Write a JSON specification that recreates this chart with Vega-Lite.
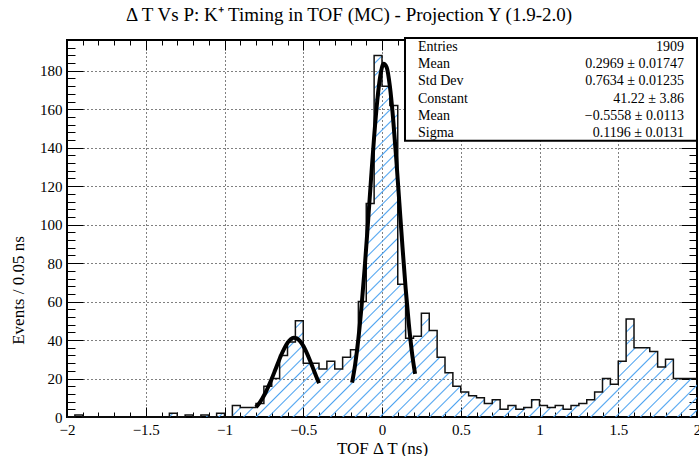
{
"$schema":"https://vega.github.io/schema/vega-lite/v6.json",
"width":630,"height":377,
"autosize":{"type":"none"},
"padding":{"left":67,"top":40,"right":2,"bottom":39},
"background":"white",
"config":{"font":"Liberation Serif","view":{"stroke":"black","strokeWidth":2},
 "axis":{"domain":false,"labelFont":"Liberation Serif","titleFont":"Liberation Serif","labelColor":"black","titleColor":"black","tickColor":"black","tickWidth":1,"titleFontWeight":"normal","labelFontSize":15,"titleFontSize":17,"gridColor":"black","gridDash":[1,3],"gridOpacity":1,"gridWidth":1}},
"title":{"text":"Δ T Vs P: K⁺ Timing in TOF (MC) - Projection Y (1.9-2.0)","font":"Liberation Serif","fontSize":19,"fontWeight":"normal","color":"black","anchor":"middle","dx":-33,"offset":12},
"datasets":{
"hist":[{"x":-2.0,"n":0},{"x":-1.95,"n":1},{"x":-1.9,"n":0},{"x":-1.85,"n":0},{"x":-1.8,"n":0},{"x":-1.75,"n":0},{"x":-1.7,"n":0},{"x":-1.65,"n":0},{"x":-1.6,"n":0},{"x":-1.55,"n":0},{"x":-1.5,"n":0},{"x":-1.45,"n":0},{"x":-1.4,"n":0},{"x":-1.35,"n":2},{"x":-1.3,"n":0},{"x":-1.25,"n":1},{"x":-1.2,"n":0},{"x":-1.15,"n":1},{"x":-1.1,"n":0},{"x":-1.05,"n":2},{"x":-1.0,"n":0},{"x":-0.95,"n":6},{"x":-0.9,"n":5},{"x":-0.85,"n":5},{"x":-0.8,"n":7},{"x":-0.75,"n":16},{"x":-0.7,"n":20},{"x":-0.65,"n":32},{"x":-0.6,"n":39},{"x":-0.55,"n":50},{"x":-0.5,"n":28},{"x":-0.45,"n":28},{"x":-0.4,"n":25},{"x":-0.35,"n":29},{"x":-0.3,"n":25},{"x":-0.25,"n":31},{"x":-0.2,"n":35},{"x":-0.15,"n":60},{"x":-0.1,"n":111},{"x":-0.05,"n":188},{"x":0.0,"n":172},{"x":0.05,"n":162},{"x":0.1,"n":69},{"x":0.15,"n":41},{"x":0.2,"n":42},{"x":0.25,"n":54},{"x":0.3,"n":45},{"x":0.35,"n":31},{"x":0.4,"n":23},{"x":0.45,"n":16},{"x":0.5,"n":13},{"x":0.55,"n":11},{"x":0.6,"n":10},{"x":0.65,"n":7},{"x":0.7,"n":9},{"x":0.75,"n":4},{"x":0.8,"n":6},{"x":0.85,"n":4},{"x":0.9,"n":5},{"x":0.95,"n":9},{"x":1.0,"n":6},{"x":1.05,"n":5},{"x":1.1,"n":6},{"x":1.15,"n":4},{"x":1.2,"n":6},{"x":1.25,"n":7},{"x":1.3,"n":9},{"x":1.35,"n":13},{"x":1.4,"n":20},{"x":1.45,"n":17},{"x":1.5,"n":29},{"x":1.55,"n":51},{"x":1.6,"n":36},{"x":1.65,"n":36},{"x":1.7,"n":34},{"x":1.75,"n":26},{"x":1.8,"n":30},{"x":1.85,"n":20},{"x":1.9,"n":20},{"x":1.95,"n":20},{"x":2.0,"n":20}],
"fit":[{"g":"g1","x":-0.8,"y":5.1},{"g":"g1","x":-0.78,"y":7.1},{"g":"g1","x":-0.76,"y":9.6},{"g":"g1","x":-0.74,"y":12.6},{"g":"g1","x":-0.72,"y":16.1},{"g":"g1","x":-0.7,"y":19.9},{"g":"g1","x":-0.68,"y":24.0},{"g":"g1","x":-0.66,"y":28.2},{"g":"g1","x":-0.64,"y":32.2},{"g":"g1","x":-0.62,"y":35.7},{"g":"g1","x":-0.6,"y":38.5},{"g":"g1","x":-0.58,"y":40.4},{"g":"g1","x":-0.56,"y":41.2},{"g":"g1","x":-0.54,"y":40.9},{"g":"g1","x":-0.52,"y":39.4},{"g":"g1","x":-0.5,"y":37.0},{"g":"g1","x":-0.48,"y":33.7},{"g":"g1","x":-0.46,"y":29.9},{"g":"g1","x":-0.44,"y":25.8},{"g":"g1","x":-0.42,"y":21.6},{"g":"g1","x":-0.4,"y":17.6},
{"g":"g2","x":-0.19,"y":17.9},{"g":"g2","x":-0.17,"y":27.6},{"g":"g2","x":-0.15,"y":40.7},{"g":"g2","x":-0.13,"y":57.4},{"g":"g2","x":-0.11,"y":77.4},{"g":"g2","x":-0.09,"y":99.9},{"g":"g2","x":-0.07,"y":123.3},{"g":"g2","x":-0.05,"y":145.6},{"g":"g2","x":-0.03,"y":164.5},{"g":"g2","x":-0.01,"y":177.7},{"g":"g2","x":0.01,"y":183.7},{"g":"g2","x":0.03,"y":181.7},{"g":"g2","x":0.05,"y":171.9},{"g":"g2","x":0.07,"y":155.6},{"g":"g2","x":0.09,"y":134.7},{"g":"g2","x":0.11,"y":111.6},{"g":"g2","x":0.13,"y":88.4},{"g":"g2","x":0.15,"y":67.0},{"g":"g2","x":0.17,"y":48.6},{"g":"g2","x":0.19,"y":33.7},{"g":"g2","x":0.21,"y":22.4}],
"stats":[{"i":1,"name":"Entries","val":"1909"},{"i":2,"name":"Mean","val":"0.2969 ± 0.01747"},{"i":3,"name":"Std Dev","val":"0.7634 ± 0.01235"},{"i":4,"name":"Constant","val":"41.22 ± 3.86"},{"i":5,"name":"Mean","val":"−0.5558 ± 0.0113"},{"i":6,"name":"Sigma","val":"0.1196 ± 0.0131"}]
},
"layer":[
{"data":{"name":"hist"},
 "mark":{"type":"area","interpolate":"step-after","fill":{"gradient":"linear","x1":0,"y1":0,"x2":1.1837,"y2":0.6803,"stops":[
{"offset":0.004,"color":"rgba(77,163,240,0)"},{"offset":0.0055,"color":"#4da3f0"},{"offset":0.007,"color":"rgba(77,163,240,0)"},
{"offset":0.0165,"color":"rgba(77,163,240,0)"},{"offset":0.018,"color":"#4da3f0"},{"offset":0.0195,"color":"rgba(77,163,240,0)"},
{"offset":0.029,"color":"rgba(77,163,240,0)"},{"offset":0.0305,"color":"#4da3f0"},{"offset":0.032,"color":"rgba(77,163,240,0)"},
{"offset":0.0415,"color":"rgba(77,163,240,0)"},{"offset":0.043,"color":"#4da3f0"},{"offset":0.0445,"color":"rgba(77,163,240,0)"},
{"offset":0.054,"color":"rgba(77,163,240,0)"},{"offset":0.0555,"color":"#4da3f0"},{"offset":0.057,"color":"rgba(77,163,240,0)"},
{"offset":0.0665,"color":"rgba(77,163,240,0)"},{"offset":0.068,"color":"#4da3f0"},{"offset":0.0695,"color":"rgba(77,163,240,0)"},
{"offset":0.079,"color":"rgba(77,163,240,0)"},{"offset":0.0805,"color":"#4da3f0"},{"offset":0.082,"color":"rgba(77,163,240,0)"},
{"offset":0.0915,"color":"rgba(77,163,240,0)"},{"offset":0.093,"color":"#4da3f0"},{"offset":0.0945,"color":"rgba(77,163,240,0)"},
{"offset":0.104,"color":"rgba(77,163,240,0)"},{"offset":0.1055,"color":"#4da3f0"},{"offset":0.107,"color":"rgba(77,163,240,0)"},
{"offset":0.1165,"color":"rgba(77,163,240,0)"},{"offset":0.118,"color":"#4da3f0"},{"offset":0.1195,"color":"rgba(77,163,240,0)"},
{"offset":0.129,"color":"rgba(77,163,240,0)"},{"offset":0.1305,"color":"#4da3f0"},{"offset":0.132,"color":"rgba(77,163,240,0)"},
{"offset":0.1415,"color":"rgba(77,163,240,0)"},{"offset":0.143,"color":"#4da3f0"},{"offset":0.1445,"color":"rgba(77,163,240,0)"},
{"offset":0.154,"color":"rgba(77,163,240,0)"},{"offset":0.1555,"color":"#4da3f0"},{"offset":0.157,"color":"rgba(77,163,240,0)"},
{"offset":0.1665,"color":"rgba(77,163,240,0)"},{"offset":0.168,"color":"#4da3f0"},{"offset":0.1695,"color":"rgba(77,163,240,0)"},
{"offset":0.179,"color":"rgba(77,163,240,0)"},{"offset":0.1805,"color":"#4da3f0"},{"offset":0.182,"color":"rgba(77,163,240,0)"},
{"offset":0.1915,"color":"rgba(77,163,240,0)"},{"offset":0.193,"color":"#4da3f0"},{"offset":0.1945,"color":"rgba(77,163,240,0)"},
{"offset":0.204,"color":"rgba(77,163,240,0)"},{"offset":0.2055,"color":"#4da3f0"},{"offset":0.207,"color":"rgba(77,163,240,0)"},
{"offset":0.2165,"color":"rgba(77,163,240,0)"},{"offset":0.218,"color":"#4da3f0"},{"offset":0.2195,"color":"rgba(77,163,240,0)"},
{"offset":0.229,"color":"rgba(77,163,240,0)"},{"offset":0.2305,"color":"#4da3f0"},{"offset":0.232,"color":"rgba(77,163,240,0)"},
{"offset":0.2415,"color":"rgba(77,163,240,0)"},{"offset":0.243,"color":"#4da3f0"},{"offset":0.2445,"color":"rgba(77,163,240,0)"},
{"offset":0.254,"color":"rgba(77,163,240,0)"},{"offset":0.2555,"color":"#4da3f0"},{"offset":0.257,"color":"rgba(77,163,240,0)"},
{"offset":0.2665,"color":"rgba(77,163,240,0)"},{"offset":0.268,"color":"#4da3f0"},{"offset":0.2695,"color":"rgba(77,163,240,0)"},
{"offset":0.279,"color":"rgba(77,163,240,0)"},{"offset":0.2805,"color":"#4da3f0"},{"offset":0.282,"color":"rgba(77,163,240,0)"},
{"offset":0.2915,"color":"rgba(77,163,240,0)"},{"offset":0.293,"color":"#4da3f0"},{"offset":0.2945,"color":"rgba(77,163,240,0)"},
{"offset":0.304,"color":"rgba(77,163,240,0)"},{"offset":0.3055,"color":"#4da3f0"},{"offset":0.307,"color":"rgba(77,163,240,0)"},
{"offset":0.3165,"color":"rgba(77,163,240,0)"},{"offset":0.318,"color":"#4da3f0"},{"offset":0.3195,"color":"rgba(77,163,240,0)"},
{"offset":0.329,"color":"rgba(77,163,240,0)"},{"offset":0.3305,"color":"#4da3f0"},{"offset":0.332,"color":"rgba(77,163,240,0)"},
{"offset":0.3415,"color":"rgba(77,163,240,0)"},{"offset":0.343,"color":"#4da3f0"},{"offset":0.3445,"color":"rgba(77,163,240,0)"},
{"offset":0.354,"color":"rgba(77,163,240,0)"},{"offset":0.3555,"color":"#4da3f0"},{"offset":0.357,"color":"rgba(77,163,240,0)"},
{"offset":0.3665,"color":"rgba(77,163,240,0)"},{"offset":0.368,"color":"#4da3f0"},{"offset":0.3695,"color":"rgba(77,163,240,0)"},
{"offset":0.379,"color":"rgba(77,163,240,0)"},{"offset":0.3805,"color":"#4da3f0"},{"offset":0.382,"color":"rgba(77,163,240,0)"},
{"offset":0.3915,"color":"rgba(77,163,240,0)"},{"offset":0.393,"color":"#4da3f0"},{"offset":0.3945,"color":"rgba(77,163,240,0)"},
{"offset":0.404,"color":"rgba(77,163,240,0)"},{"offset":0.4055,"color":"#4da3f0"},{"offset":0.407,"color":"rgba(77,163,240,0)"},
{"offset":0.4165,"color":"rgba(77,163,240,0)"},{"offset":0.418,"color":"#4da3f0"},{"offset":0.4195,"color":"rgba(77,163,240,0)"},
{"offset":0.429,"color":"rgba(77,163,240,0)"},{"offset":0.4305,"color":"#4da3f0"},{"offset":0.432,"color":"rgba(77,163,240,0)"},
{"offset":0.4415,"color":"rgba(77,163,240,0)"},{"offset":0.443,"color":"#4da3f0"},{"offset":0.4445,"color":"rgba(77,163,240,0)"},
{"offset":0.454,"color":"rgba(77,163,240,0)"},{"offset":0.4555,"color":"#4da3f0"},{"offset":0.457,"color":"rgba(77,163,240,0)"},
{"offset":0.4665,"color":"rgba(77,163,240,0)"},{"offset":0.468,"color":"#4da3f0"},{"offset":0.4695,"color":"rgba(77,163,240,0)"},
{"offset":0.479,"color":"rgba(77,163,240,0)"},{"offset":0.4805,"color":"#4da3f0"},{"offset":0.482,"color":"rgba(77,163,240,0)"},
{"offset":0.4915,"color":"rgba(77,163,240,0)"},{"offset":0.493,"color":"#4da3f0"},{"offset":0.4945,"color":"rgba(77,163,240,0)"},
{"offset":0.504,"color":"rgba(77,163,240,0)"},{"offset":0.5055,"color":"#4da3f0"},{"offset":0.507,"color":"rgba(77,163,240,0)"},
{"offset":0.5165,"color":"rgba(77,163,240,0)"},{"offset":0.518,"color":"#4da3f0"},{"offset":0.5195,"color":"rgba(77,163,240,0)"},
{"offset":0.529,"color":"rgba(77,163,240,0)"},{"offset":0.5305,"color":"#4da3f0"},{"offset":0.532,"color":"rgba(77,163,240,0)"},
{"offset":0.5415,"color":"rgba(77,163,240,0)"},{"offset":0.543,"color":"#4da3f0"},{"offset":0.5445,"color":"rgba(77,163,240,0)"},
{"offset":0.554,"color":"rgba(77,163,240,0)"},{"offset":0.5555,"color":"#4da3f0"},{"offset":0.557,"color":"rgba(77,163,240,0)"},
{"offset":0.5665,"color":"rgba(77,163,240,0)"},{"offset":0.568,"color":"#4da3f0"},{"offset":0.5695,"color":"rgba(77,163,240,0)"},
{"offset":0.579,"color":"rgba(77,163,240,0)"},{"offset":0.5805,"color":"#4da3f0"},{"offset":0.582,"color":"rgba(77,163,240,0)"},
{"offset":0.5915,"color":"rgba(77,163,240,0)"},{"offset":0.593,"color":"#4da3f0"},{"offset":0.5945,"color":"rgba(77,163,240,0)"},
{"offset":0.604,"color":"rgba(77,163,240,0)"},{"offset":0.6055,"color":"#4da3f0"},{"offset":0.607,"color":"rgba(77,163,240,0)"},
{"offset":0.6165,"color":"rgba(77,163,240,0)"},{"offset":0.618,"color":"#4da3f0"},{"offset":0.6195,"color":"rgba(77,163,240,0)"},
{"offset":0.629,"color":"rgba(77,163,240,0)"},{"offset":0.6305,"color":"#4da3f0"},{"offset":0.632,"color":"rgba(77,163,240,0)"},
{"offset":0.6415,"color":"rgba(77,163,240,0)"},{"offset":0.643,"color":"#4da3f0"},{"offset":0.6445,"color":"rgba(77,163,240,0)"},
{"offset":0.654,"color":"rgba(77,163,240,0)"},{"offset":0.6555,"color":"#4da3f0"},{"offset":0.657,"color":"rgba(77,163,240,0)"},
{"offset":0.6665,"color":"rgba(77,163,240,0)"},{"offset":0.668,"color":"#4da3f0"},{"offset":0.6695,"color":"rgba(77,163,240,0)"},
{"offset":0.679,"color":"rgba(77,163,240,0)"},{"offset":0.6805,"color":"#4da3f0"},{"offset":0.682,"color":"rgba(77,163,240,0)"},
{"offset":0.6915,"color":"rgba(77,163,240,0)"},{"offset":0.693,"color":"#4da3f0"},{"offset":0.6945,"color":"rgba(77,163,240,0)"},
{"offset":0.704,"color":"rgba(77,163,240,0)"},{"offset":0.7055,"color":"#4da3f0"},{"offset":0.707,"color":"rgba(77,163,240,0)"},
{"offset":0.7165,"color":"rgba(77,163,240,0)"},{"offset":0.718,"color":"#4da3f0"},{"offset":0.7195,"color":"rgba(77,163,240,0)"},
{"offset":0.729,"color":"rgba(77,163,240,0)"},{"offset":0.7305,"color":"#4da3f0"},{"offset":0.732,"color":"rgba(77,163,240,0)"},
{"offset":0.7415,"color":"rgba(77,163,240,0)"},{"offset":0.743,"color":"#4da3f0"},{"offset":0.7445,"color":"rgba(77,163,240,0)"},
{"offset":0.754,"color":"rgba(77,163,240,0)"},{"offset":0.7555,"color":"#4da3f0"},{"offset":0.757,"color":"rgba(77,163,240,0)"},
{"offset":0.7665,"color":"rgba(77,163,240,0)"},{"offset":0.768,"color":"#4da3f0"},{"offset":0.7695,"color":"rgba(77,163,240,0)"},
{"offset":0.779,"color":"rgba(77,163,240,0)"},{"offset":0.7805,"color":"#4da3f0"},{"offset":0.782,"color":"rgba(77,163,240,0)"},
{"offset":0.7915,"color":"rgba(77,163,240,0)"},{"offset":0.793,"color":"#4da3f0"},{"offset":0.7945,"color":"rgba(77,163,240,0)"},
{"offset":0.804,"color":"rgba(77,163,240,0)"},{"offset":0.8055,"color":"#4da3f0"},{"offset":0.807,"color":"rgba(77,163,240,0)"},
{"offset":0.8165,"color":"rgba(77,163,240,0)"},{"offset":0.818,"color":"#4da3f0"},{"offset":0.8195,"color":"rgba(77,163,240,0)"},
{"offset":0.829,"color":"rgba(77,163,240,0)"},{"offset":0.8305,"color":"#4da3f0"},{"offset":0.832,"color":"rgba(77,163,240,0)"},
{"offset":0.8415,"color":"rgba(77,163,240,0)"},{"offset":0.843,"color":"#4da3f0"},{"offset":0.8445,"color":"rgba(77,163,240,0)"},
{"offset":0.854,"color":"rgba(77,163,240,0)"},{"offset":0.8555,"color":"#4da3f0"},{"offset":0.857,"color":"rgba(77,163,240,0)"},
{"offset":0.8665,"color":"rgba(77,163,240,0)"},{"offset":0.868,"color":"#4da3f0"},{"offset":0.8695,"color":"rgba(77,163,240,0)"},
{"offset":0.879,"color":"rgba(77,163,240,0)"},{"offset":0.8805,"color":"#4da3f0"},{"offset":0.882,"color":"rgba(77,163,240,0)"},
{"offset":0.8915,"color":"rgba(77,163,240,0)"},{"offset":0.893,"color":"#4da3f0"},{"offset":0.8945,"color":"rgba(77,163,240,0)"},
{"offset":0.904,"color":"rgba(77,163,240,0)"},{"offset":0.9055,"color":"#4da3f0"},{"offset":0.907,"color":"rgba(77,163,240,0)"},
{"offset":0.9165,"color":"rgba(77,163,240,0)"},{"offset":0.918,"color":"#4da3f0"},{"offset":0.9195,"color":"rgba(77,163,240,0)"},
{"offset":0.929,"color":"rgba(77,163,240,0)"},{"offset":0.9305,"color":"#4da3f0"},{"offset":0.932,"color":"rgba(77,163,240,0)"},
{"offset":0.9415,"color":"rgba(77,163,240,0)"},{"offset":0.943,"color":"#4da3f0"},{"offset":0.9445,"color":"rgba(77,163,240,0)"},
{"offset":0.954,"color":"rgba(77,163,240,0)"},{"offset":0.9555,"color":"#4da3f0"},{"offset":0.957,"color":"rgba(77,163,240,0)"},
{"offset":0.9665,"color":"rgba(77,163,240,0)"},{"offset":0.968,"color":"#4da3f0"},{"offset":0.9695,"color":"rgba(77,163,240,0)"},
{"offset":0.979,"color":"rgba(77,163,240,0)"},{"offset":0.9805,"color":"#4da3f0"},{"offset":0.982,"color":"rgba(77,163,240,0)"},
{"offset":0.9915,"color":"rgba(77,163,240,0)"},{"offset":0.993,"color":"#4da3f0"},{"offset":0.9945,"color":"rgba(77,163,240,0)"}
]}},
 "encoding":{
  "x":{"field":"x","type":"quantitative","scale":{"domain":[-2,2],"nice":false,"zero":false},
   "axis":{"orient":"bottom","values":[-2,-1.5,-1,-0.5,0,0.5,1,1.5,2],"format":"~g","grid":true,"ticks":false,"labelPadding":5,"labelFlush":false,"labelOverlap":false,"title":"TOF Δ T (ns)","titlePadding":3}},
  "y":{"field":"n","type":"quantitative","scale":{"domain":[0,196],"nice":false},
   "axis":{"orient":"left","values":[0,20,40,60,80,100,120,140,160,180],"grid":true,"ticks":false,"labelPadding":5,"labelOverlap":false,"title":"Events / 0.05 ns","titleX":-40,"titleY":250}}
 }},
{"data":{"name":"hist"},
 "mark":{"type":"line","interpolate":"step-after","color":"#111","strokeWidth":1.5},
 "encoding":{
  "x":{"field":"x","type":"quantitative","scale":{"domain":[-2,2],"nice":false,"zero":false},
   "axis":{"orient":"bottom","values":[-2,-1.5,-1,-0.5,0,0.5,1,1.5,2],"labels":false,"grid":false,"ticks":true,"tickSize":10,"offset":-10,"title":null}},
  "y":{"field":"n","type":"quantitative","scale":{"domain":[0,196],"nice":false},
   "axis":{"orient":"left","values":[0,20,40,60,80,100,120,140,160,180],"labels":false,"grid":false,"ticks":true,"tickSize":16,"offset":-16,"title":null}}
 }},
{"data":{"name":"fit"},"transform":[{"filter":"datum.g == 'g1'"}],
 "mark":{"type":"line","interpolate":"monotone","color":"black","strokeWidth":4},
 "encoding":{
  "x":{"field":"x","type":"quantitative","scale":{"domain":[-2,2],"nice":false,"zero":false},
   "axis":{"orient":"bottom","values":[-1.9,-1.8,-1.7,-1.6,-1.4,-1.3,-1.2,-1.1,-0.9,-0.8,-0.7,-0.6,-0.4,-0.3,-0.2,-0.1,0.1,0.2,0.3,0.4,0.6,0.7,0.8,0.9,1.1,1.2,1.3,1.4,1.6,1.7,1.8,1.9],"labels":false,"grid":false,"ticks":true,"tickSize":5,"offset":-5,"title":null}},
  "y":{"field":"y","type":"quantitative","scale":{"domain":[0,196],"nice":false},
   "axis":{"orient":"left","values":[4,8,12,16,24,28,32,36,44,48,52,56,64,68,72,76,84,88,92,96,104,108,112,116,124,128,132,136,144,148,152,156,164,168,172,176,184,188,192],"labels":false,"grid":false,"ticks":true,"tickSize":8,"offset":-8,"title":null}}
 }},
{"data":{"name":"fit"},"transform":[{"filter":"datum.g == 'g2'"}],
 "mark":{"type":"line","interpolate":"monotone","color":"black","strokeWidth":4},
 "encoding":{
  "x":{"field":"x","type":"quantitative","scale":{"domain":[-2,2],"nice":false,"zero":false},
   "axis":{"orient":"top","values":[-2,-1.5,-1,-0.5,0,0.5,1,1.5,2],"labels":false,"grid":false,"ticks":true,"tickSize":10,"offset":-10,"title":null}},
  "y":{"field":"y","type":"quantitative","scale":{"domain":[0,196],"nice":false},
   "axis":{"orient":"right","values":[0,20,40,60,80,100,120,140,160,180],"labels":false,"grid":false,"ticks":true,"tickSize":16,"offset":-16,"title":null}}
 }},
{"data":{"values":[{}]},
 "mark":{"type":"rect","fill":"white","stroke":"black","strokeWidth":2},
 "encoding":{
  "x":{"datum":0.146,"type":"quantitative","scale":{"domain":[-2,2],"nice":false,"zero":false},
   "axis":{"orient":"top","values":[-1.9,-1.8,-1.7,-1.6,-1.4,-1.3,-1.2,-1.1,-0.9,-0.8,-0.7,-0.6,-0.4,-0.3,-0.2,-0.1,0.1,0.2,0.3,0.4,0.6,0.7,0.8,0.9,1.1,1.2,1.3,1.4,1.6,1.7,1.8,1.9],"labels":false,"grid":false,"ticks":true,"tickSize":5,"offset":-5,"title":null}},
  "x2":{"datum":2.0},
  "y":{"datum":143.6,"type":"quantitative","scale":{"domain":[0,196],"nice":false},
   "axis":{"orient":"right","values":[4,8,12,16,24,28,32,36,44,48,52,56,64,68,72,76,84,88,92,96,104,108,112,116,124,128,132,136,144,148,152,156,164,168,172,176,184,188,192],"labels":false,"grid":false,"ticks":true,"tickSize":8,"offset":-8,"title":null}},
  "y2":{"datum":197}
 }},
{"data":{"name":"stats"},
 "mark":{"type":"text","align":"left","baseline":"middle","fontSize":14,"font":"Liberation Serif","color":"black"},
 "encoding":{
  "x":{"datum":0.2286,"type":"quantitative","scale":{"domain":[-2,2],"nice":false,"zero":false},"axis":null},
  "y":{"field":"i","type":"ordinal","scale":{"type":"point","range":[7,93],"padding":0},"axis":null},
  "text":{"field":"name","type":"nominal"}
 }},
{"data":{"name":"stats"},
 "mark":{"type":"text","align":"right","baseline":"middle","fontSize":14,"font":"Liberation Serif","color":"black"},
 "encoding":{
  "x":{"datum":1.917,"type":"quantitative","scale":{"domain":[-2,2],"nice":false,"zero":false},"axis":null},
  "y":{"field":"i","type":"ordinal","scale":{"type":"point","range":[7,93],"padding":0},"axis":null},
  "text":{"field":"val","type":"nominal"}
 }}
],
"resolve":{"scale":{"y":"independent"},"axis":{"x":"independent","y":"independent"}}
}
